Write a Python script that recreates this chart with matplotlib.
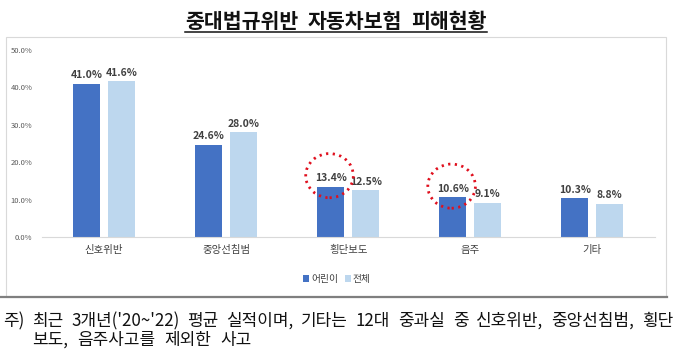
"""Child vs overall share of insurance damage by major traffic violation."""

import matplotlib
matplotlib.use("Agg")
import matplotlib.pyplot as plt
from matplotlib.patches import Ellipse, Rectangle
from matplotlib.lines import Line2D
import numpy as np

plt.rcParams["font.family"] = ["Noto Sans CJK KR", "DejaVu Sans"]

categories = ["신호위반", "중앙선침범", "횡단보도", "음주", "기타"]
children = [41.0, 24.6, 13.4, 10.6, 10.3]
overall = [41.6, 28.0, 12.5, 9.1, 8.8]
series_names = ["어린이", "전체"]
yticks = [0, 10, 20, 30, 40, 50]
highlighted = [2, 3]  # circled child values
title = "중대법규위반 자동차보험 피해현황"
note_1 = "주) 최근 3개년('20~'22) 평균 실적이며, 기타는 12대 중과실 중 신호위반, 중앙선침범, 횡단"
note_2 = "보도, 음주사고를 제외한 사고"

DARK = "#4472C4"
LIGHT = "#BDD7EE"
W, H = 680, 355

fig = plt.figure(figsize=(W / 100, H / 100), dpi=100)
renderer = fig.canvas.get_renderer()


def fx(px):
    return px / W


def fy(py):
    return 1 - py / H


def word_line(text, x0, y, x1=None, gap=9.0, **kw):
    """Lay out words one by one; justify between x0 and x1 when x1 given."""
    words = text.split(" ")
    arts = [fig.text(0, fy(y), w, ha="left", va="center", **kw) for w in words]
    widths = [a.get_window_extent(renderer).width for a in arts]
    if x1 is not None and len(words) > 1:
        gap = (x1 - x0 - sum(widths)) / (len(words) - 1)
    pos = x0
    for a, w in zip(arts, widths):
        a.set_x(fx(pos))
        pos += w + gap


# outer chart frame and bottom rule
fig.add_artist(Rectangle((fx(6), fy(297)), fx(660), fy(37) - fy(297),
                         transform=fig.transFigure, fill=False,
                         edgecolor="#d9d9d9", linewidth=0.8))
fig.add_artist(Line2D([fx(0), fx(667)], [fy(297), fy(297)],
                      transform=fig.transFigure, color="#7f7f7f", linewidth=1.6))

word_line(title, 185, 21, 487, fontsize=14.8, fontweight="bold", color="#111111")
fig.add_artist(Line2D([fx(185), fx(487)], [fy(32), fy(32)],
                      transform=fig.transFigure, color="#111111", linewidth=1.1))

ax = fig.add_axes([fx(42), fy(237), fx(613), fy(50) - fy(237)])
x = np.arange(len(categories))
off, bw = 0.143, 0.221
b1 = ax.bar(x - off, children, bw, color=DARK, label=series_names[0], zorder=2)
b2 = ax.bar(x + off, overall, bw, color=LIGHT, label=series_names[1], zorder=2)

for bars in (b1, b2):
    for rect in bars:
        v = rect.get_height()
        ax.text(rect.get_x() + rect.get_width() / 2, v + 1.0, f"{v:.1f}%",
                ha="center", va="bottom", fontsize=7.5, fontweight="bold",
                color="#404040")

for i in highlighted:
    cx = x[i] - off - 0.01
    cy = children[i] + 3.0
    ax.add_patch(Ellipse((cx, cy), 0.39, 11.8, fill=False, edgecolor="#e0101e",
                         linewidth=2.0, linestyle=(0, (0.8, 1.6)), zorder=3,
                         clip_on=False))

ax.set_xlim(-0.508, 4.513)
ax.set_ylim(0, 50)
ax.set_yticks(yticks)
ax.set_yticklabels([f"{t:.1f}%" for t in yticks], fontsize=5.5, color="#595959")
ax.set_xticks(x)
ax.set_xticklabels(categories, fontsize=7.5, color="#404040")
ax.tick_params(length=0, pad=6)
ax.tick_params(axis="y", pad=7)
for s in ("top", "right", "left"):
    ax.spines[s].set_visible(False)
ax.spines["bottom"].set_color("#d9d9d9")
ax.patch.set_alpha(0)

fig.legend(handles=[b1, b2], labels=series_names, loc="center",
           bbox_to_anchor=(fx(337), fy(279)), ncol=2, frameon=False,
           fontsize=7, handlelength=0.6, handleheight=0.6, handletextpad=0.2,
           columnspacing=0.7, labelcolor="#404040")

word_line(note_1, 3, 321, 673, fontsize=12.2, color="#111111")
word_line(note_2, 32, 340, gap=9.0, fontsize=12.2, color="#111111")

fig.savefig("out.png", dpi=100)
